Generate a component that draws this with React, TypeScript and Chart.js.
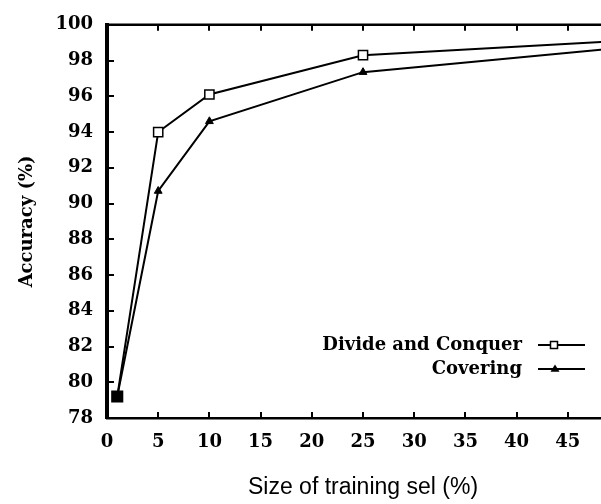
import React, { useEffect, useRef } from "react";
import { Chart, registerables } from "chart.js";

Chart.register(...registerables);

// ---- data ----
const trainingSizes = [1, 5, 10, 25, 50];
const divideAndConquer = [79.2, 94.0, 96.1, 98.3, 99.1];
const coveringAcc = [79.2, 90.7, 94.6, 97.35, 98.7];
const seriesNames = ["Divide and Conquer", "Covering"];
const xTickValues = [0, 5, 10, 15, 20, 25, 30, 35, 40, 45];
const yTickValues = [78, 80, 82, 84, 86, 88, 90, 92, 94, 96, 98, 100];
const xTitle = "Size of training sel (%)";
const yTitle = "Accuracy (%)";

const SERIF = "'DejaVu Serif', serif";

function drawSquare(ctx: CanvasRenderingContext2D, x: number, y: number, s: number, fill: string) {
  ctx.beginPath();
  ctx.rect(x - s / 2, y - s / 2, s, s);
  ctx.fillStyle = fill;
  ctx.fill();
  ctx.stroke();
}
function drawTriangle(ctx: CanvasRenderingContext2D, x: number, y: number, r: number) {
  ctx.beginPath();
  ctx.moveTo(x, y - r);
  ctx.lineTo(x + r, y + r * 0.6);
  ctx.lineTo(x - r, y + r * 0.6);
  ctx.closePath();
  ctx.fillStyle = "#000";
  ctx.fill();
}

const framePlugin = {
  id: "frameTicks",
  afterDatasetsDraw(chart: any) {
    const { ctx, chartArea: a, scales } = chart;
    ctx.save();
    ctx.strokeStyle = "#000";
    ctx.lineWidth = 2.5;
    ctx.beginPath();
    ctx.moveTo(a.left, a.top);
    ctx.lineTo(a.right, a.top);
    ctx.stroke();
    ctx.lineWidth = 2;
    ctx.beginPath();
    for (const v of xTickValues) {
      if (v === 0) continue;
      const px = Math.round(scales.x.getPixelForValue(v));
      ctx.moveTo(px, a.bottom);
      ctx.lineTo(px, a.bottom - 6);
      ctx.moveTo(px, a.top);
      ctx.lineTo(px, a.top + 6);
    }
    for (const v of yTickValues) {
      const py = Math.round(scales.y.getPixelForValue(v));
      ctx.moveTo(a.left, py);
      ctx.lineTo(a.left + 7, py);
    }
    ctx.stroke();
    ctx.restore();
  },
};

const legendPlugin = {
  id: "innerLegend",
  afterDraw(chart: any) {
    const { ctx } = chart;
    const textRight = 522;
    const rows = [345, 369];
    ctx.save();
    ctx.font = `bold 18px ${SERIF}`;
    ctx.textAlign = "right";
    ctx.textBaseline = "middle";
    chart.data.datasets.forEach((ds: any, i: number) => {
      const y = rows[i];
      ctx.fillStyle = "#000";
      ctx.fillText(ds.label, textRight, y);
      ctx.strokeStyle = "#000";
      ctx.lineWidth = 2;
      ctx.beginPath();
      ctx.moveTo(538, y);
      ctx.lineTo(585, y);
      ctx.stroke();
      ctx.lineWidth = 1.5;
      if (i === 0) drawSquare(ctx, 554, y, 7, "#fff");
      else drawTriangle(ctx, 555, y, 4.5);
    });
    ctx.restore();
  },
};

export default function App() {
  const ref = useRef<HTMLCanvasElement>(null);
  useEffect(() => {
    if (!ref.current) return;
    const chart = new Chart(ref.current, {
      type: "line",
      data: {
        datasets: [
          {
            label: seriesNames[0],
            data: trainingSizes.map((x, i) => ({ x, y: divideAndConquer[i] })),
            borderColor: "#000",
            borderWidth: 2,
            pointStyle: "rect",
            pointRadius: [7.5, 6.5, 6.5, 6.5, 6.5],
            pointBorderWidth: 1.5,
            pointBorderColor: "#000",
            pointBackgroundColor: ["#000", "#fff", "#fff", "#fff", "#fff"],
            tension: 0,
          },
          {
            label: seriesNames[1],
            data: trainingSizes.map((x, i) => ({ x, y: coveringAcc[i] })),
            borderColor: "#000",
            borderWidth: 2,
            pointStyle: "triangle",
            pointRadius: 4.5,
            pointBorderWidth: 1,
            pointBorderColor: "#000",
            pointBackgroundColor: "#000",
            tension: 0,
          },
        ],
      },
      options: {
        animation: false,
        responsive: false,
        layout: { padding: { top: 18, right: 21, left: 0, bottom: 0 } },
        plugins: { legend: { display: false }, tooltip: { enabled: false } },
        scales: {
          x: {
            type: "linear",
            min: 0,
            max: 50,
            afterBuildTicks: (axis: any) => {
              axis.ticks = xTickValues.map((v) => ({ value: v }));
            },
            afterFit: (s: any) => {
              s.height = 86;
            },
            grid: { display: false, drawTicks: false },
            border: { display: true, color: "#000", width: 2.5 },
            ticks: {
              color: "#000",
              padding: 14,
              maxRotation: 0,
              autoSkip: false,
              font: { family: SERIF, size: 18, weight: "bold" },
            },
            title: {
              display: true,
              text: xTitle,
              color: "#000",
              padding: { top: 0, bottom: 3 },
              font: { family: "'Liberation Sans', Arial, sans-serif", size: 23 },
            },
          },
          y: {
            type: "linear",
            min: 78,
            max: 100,
            afterBuildTicks: (axis: any) => {
              axis.ticks = yTickValues.map((v) => ({ value: v }));
            },
            afterFit: (s: any) => {
              s.width = 107;
            },
            grid: { display: false, drawTicks: false },
            border: { display: true, color: "#000", width: 4 },
            ticks: {
              color: "#000",
              padding: 14,
              autoSkip: false,
              font: { family: SERIF, size: 18, weight: "bold" },
            },
            title: {
              display: true,
              text: yTitle,
              color: "#000",
              padding: { top: 17, bottom: 0 },
              font: { family: SERIF, size: 18, weight: "bold" },
            },
          },
        },
      },
      plugins: [framePlugin, legendPlugin],
    });
    return () => chart.destroy();
  }, []);

  return (
    <div
      style={{
        position: "absolute",
        left: 0,
        top: 0,
        width: 601,
        height: 504,
        overflow: "hidden",
        background: "#fff",
      }}
    >
      <canvas ref={ref} width={640} height={504} style={{ display: "block" }} />
    </div>
  );
}
